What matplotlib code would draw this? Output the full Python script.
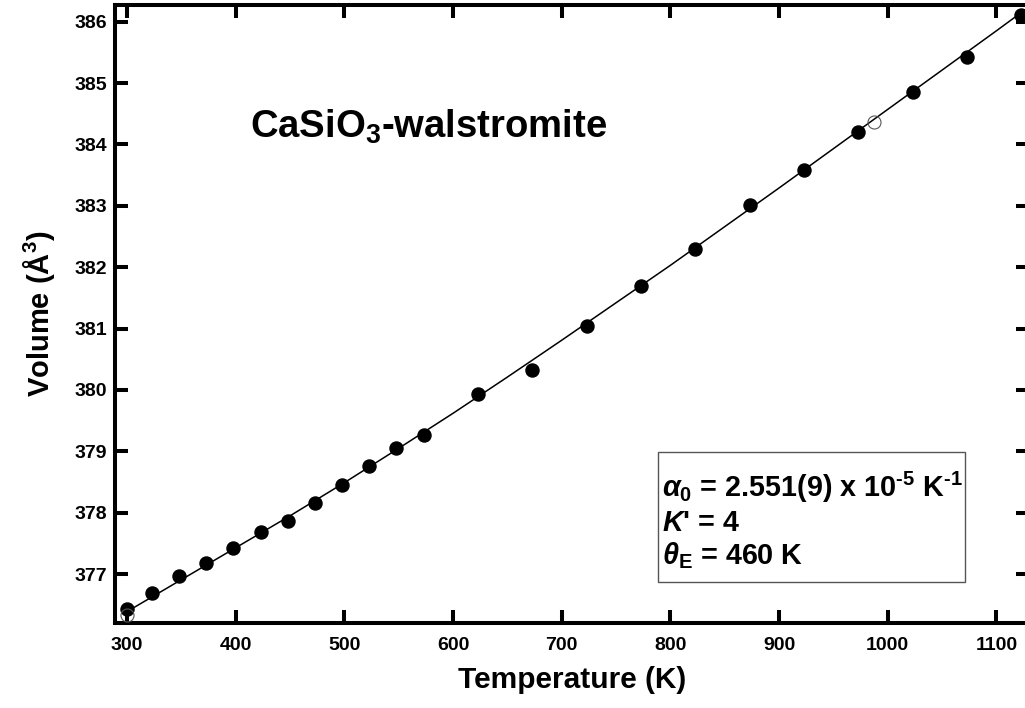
import numpy as np
from matplotlib import pyplot as plt
from matplotlib.patches import Rectangle

plt.rcParams['font.family'] = 'Liberation Sans'
plt.rcParams['font.weight'] = 'bold'
plt.rcParams['mathtext.fontset'] = 'custom'
plt.rcParams['mathtext.rm'] = 'Liberation Sans:bold'
plt.rcParams['mathtext.it'] = 'Liberation Sans:italic:bold'
plt.rcParams['mathtext.bf'] = 'Liberation Sans:bold'
plt.rcParams['mathtext.default'] = 'rm'

# measured unit-cell volumes (filled) and excluded points (open)
T_filled = [300, 323, 348, 373, 398, 423, 448, 473, 498, 523, 548, 573,
            623, 673, 723, 773, 823, 873, 923, 973, 1023, 1073, 1123]
V_filled = [376.43, 376.69, 376.97, 377.18, 377.42, 377.68, 377.87, 378.16,
            378.46, 378.77, 379.06, 379.27, 379.93, 380.33, 381.05, 381.69,
            382.30, 383.02, 383.59, 384.21, 384.85, 385.42, 386.10]
T_open = [300, 987]
V_open = [376.33, 384.36]

# fitted curve
T_fit = [300, 350, 400, 450, 500, 550, 600, 650, 700, 750, 800, 850,
         900, 950, 1000, 1050, 1100, 1130]
V_fit = [376.39, 376.91, 377.43, 377.95, 378.49, 379.05, 379.62, 380.21,
         380.81, 381.42, 382.03, 382.66, 383.29, 383.93, 384.57, 385.21,
         385.85, 386.24]

x_ticks = [300, 400, 500, 600, 700, 800, 900, 1000, 1100]
y_ticks = [377, 378, 379, 380, 381, 382, 383, 384, 385, 386]

fig = plt.figure(figsize=(10.25, 7.08), dpi=100)
ax = fig.add_axes([0.1122, 0.1205, 0.8917, 0.8724])

ax.plot(T_fit, V_fit, color='black', lw=1.1, zorder=2)
ax.plot(T_filled, V_filled, 'o', color='black', ms=9.4, zorder=3)
ax.plot(T_open, V_open, 'o', mfc='none', mec='#555555', mew=0.8, ms=9.4, zorder=4)

ax.set_xlim(289, 1130)
ax.set_ylim(376.21, 386.27)
ax.set_xticks(x_ticks)
ax.set_yticks(y_ticks)

for s in ax.spines.values():
    s.set_linewidth(2.9)
ax.tick_params(direction='in', length=9.5, width=2.9, top=True, right=True,
               labelsize=14)
ax.tick_params(axis='x', pad=10)
ax.tick_params(axis='y', pad=6)

ax.set_xlabel('Temperature (K)', fontsize=21.5, fontweight='bold')
ax.set_ylabel('Volume (Å$^{3}$)', fontsize=21, fontweight='bold')
ax.xaxis.set_label_coords(0.5, -0.070)
ax.yaxis.set_label_coords(-0.0635, 0.5)

ax.text(0.148, 0.786, 'CaSiO$_{3}$-walstromite', transform=ax.transAxes,
        fontsize=27.5, fontweight='bold', va='baseline', ha='left')

ax.add_patch(Rectangle((0.594, 0.066), 0.336, 0.210, transform=ax.transAxes,
                       fill=False, ec='#555555', lw=1.0, zorder=5))
box_lines = [r'$\mathit{\alpha}_{0}$ = 2.551(9) x 10$^{\text{-5}}$ K$^{\text{-1}}$',
             r"$\mathit{K}$' = 4",
             r'$\mathit{\theta}_{E}$ = 460 K']
for i, s in enumerate(box_lines):
    ax.text(0.598, 0.204 - i * 0.055, s, transform=ax.transAxes,
            fontsize=20.7, fontweight='bold', va='baseline', ha='left')

fig.savefig('out.png', dpi=100)
